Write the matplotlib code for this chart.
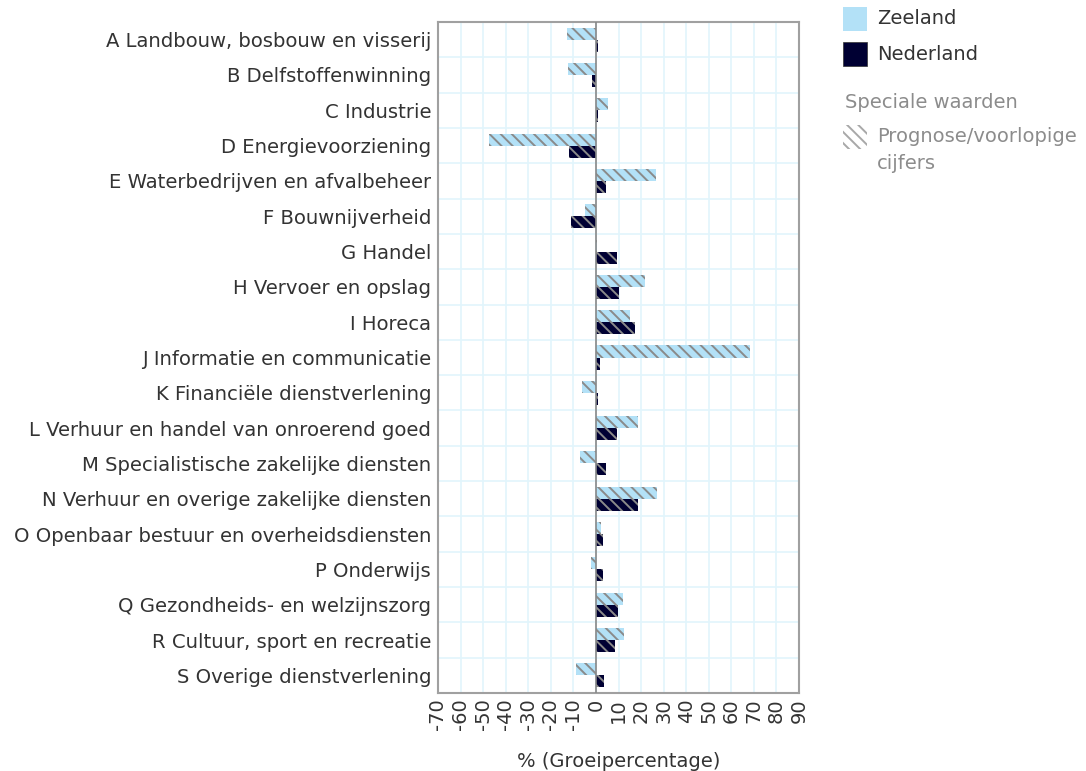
import matplotlib
matplotlib.use("Agg")
import matplotlib.pyplot as plt
from matplotlib.patches import Rectangle
import numpy as np

plt.rcParams['font.family'] = ['DejaVu Sans']
plt.rcParams['hatch.color'] = '#8a8a8a'
plt.rcParams['hatch.linewidth'] = 1.4

# data
categories = [
    "A Landbouw, bosbouw en visserij",
    "B Delfstoffenwinning",
    "C Industrie",
    "D Energievoorziening",
    "E Waterbedrijven en afvalbeheer",
    "F Bouwnijverheid",
    "G Handel",
    "H Vervoer en opslag",
    "I Horeca",
    "J Informatie en communicatie",
    "K Financiële dienstverlening",
    "L Verhuur en handel van onroerend goed",
    "M Specialistische zakelijke diensten",
    "N Verhuur en overige zakelijke diensten",
    "O Openbaar bestuur en overheidsdiensten",
    "P Onderwijs",
    "Q Gezondheids- en welzijnszorg",
    "R Cultuur, sport en recreatie",
    "S Overige dienstverlening",
]
zeeland = [-13.0, -12.3, 5.2, -47.3, 26.6, -4.9, 0.3, 21.9, 15.2, 68.3,
           -6.2, 18.6, -7.0, 27.2, 2.4, -2.2, 11.8, 12.6, -9.0]
nederland = [1.0, -1.6, 0.8, -11.8, 4.4, -10.9, 9.2, 10.3, 17.3, 1.8,
             1.0, 9.2, 4.4, 18.5, 3.1, 3.1, 9.9, 8.6, 3.7]
xticks = list(range(-70, 91, 10))

c_zee = '#b3e1f7'
c_ned = '#000033'
txt = '#333333'
hatch = '\\\\\\'

fig = plt.figure(figsize=(10.86, 7.71), dpi=100)
ax = fig.add_axes([438/1086, 1-693/771, 361/1086, 671/771])

y = np.arange(len(categories))
h = 0.34
ax.barh(y - h/2, zeeland, height=h, color=c_zee, hatch=hatch, linewidth=0, zorder=3)
ax.barh(y + h/2, nederland, height=h, color=c_ned, hatch=hatch, linewidth=0, zorder=3)

ax.set_xlim(-70, 90)
ax.set_ylim(len(categories) - 0.5, -0.5)
ax.set_xticks(xticks)
ax.set_xticklabels([str(v) for v in xticks], rotation=90, fontsize=14, color=txt)
ax.set_yticks(y)
ax.set_yticklabels(categories, fontsize=14.15, color=txt)
ax.set_yticks(np.arange(-0.5, len(categories), 1), minor=True)
ax.tick_params(axis='both', which='both', length=0)
ax.tick_params(axis='y', pad=5)
ax.tick_params(axis='x', pad=4)
ax.grid(True, axis='x', which='major', color='#e2f5fc', linewidth=1.2, zorder=0)
ax.grid(True, axis='y', which='minor', color='#e2f5fc', linewidth=1.2, zorder=0)
ax.axvline(0, color='#888888', linewidth=1.2, zorder=4)
for s in ax.spines.values():
    s.set_color('#a0a0a0')
    s.set_linewidth(1.5)
ax.set_xlabel("% (Groeipercentage)", fontsize=14, color=txt, va='center')
ax.xaxis.set_label_coords(0.5, -0.1014)

# legend on the right
def fx(px):
    return px / 1086
def fy(py):
    return 1 - py / 771

fig.add_artist(Rectangle((fx(843), fy(31)), fx(24), 24/771, transform=fig.transFigure,
                         facecolor=c_zee, edgecolor='none'))
fig.text(fx(877), fy(19), "Zeeland", fontsize=14, color=txt, va='center')
fig.add_artist(Rectangle((fx(843), fy(66)), fx(24), 24/771, transform=fig.transFigure,
                         facecolor=c_ned, edgecolor='#333333', linewidth=0.5))
fig.text(fx(877), fy(54), "Nederland", fontsize=14, color=txt, va='center')
fig.text(fx(845), fy(103), "Speciale waarden", fontsize=14, color='#8c8c8c', va='center')
fig.add_artist(Rectangle((fx(843), fy(149)), fx(24), 24/771, transform=fig.transFigure,
                         facecolor='white', edgecolor='#a8a8a8', linewidth=0, hatch=hatch))
fig.text(fx(877), fy(150), "Prognose/voorlopige\ncijfers", fontsize=14, color='#8c8c8c',
         va='center', linespacing=1.5)

fig.savefig("out.png", dpi=100)
